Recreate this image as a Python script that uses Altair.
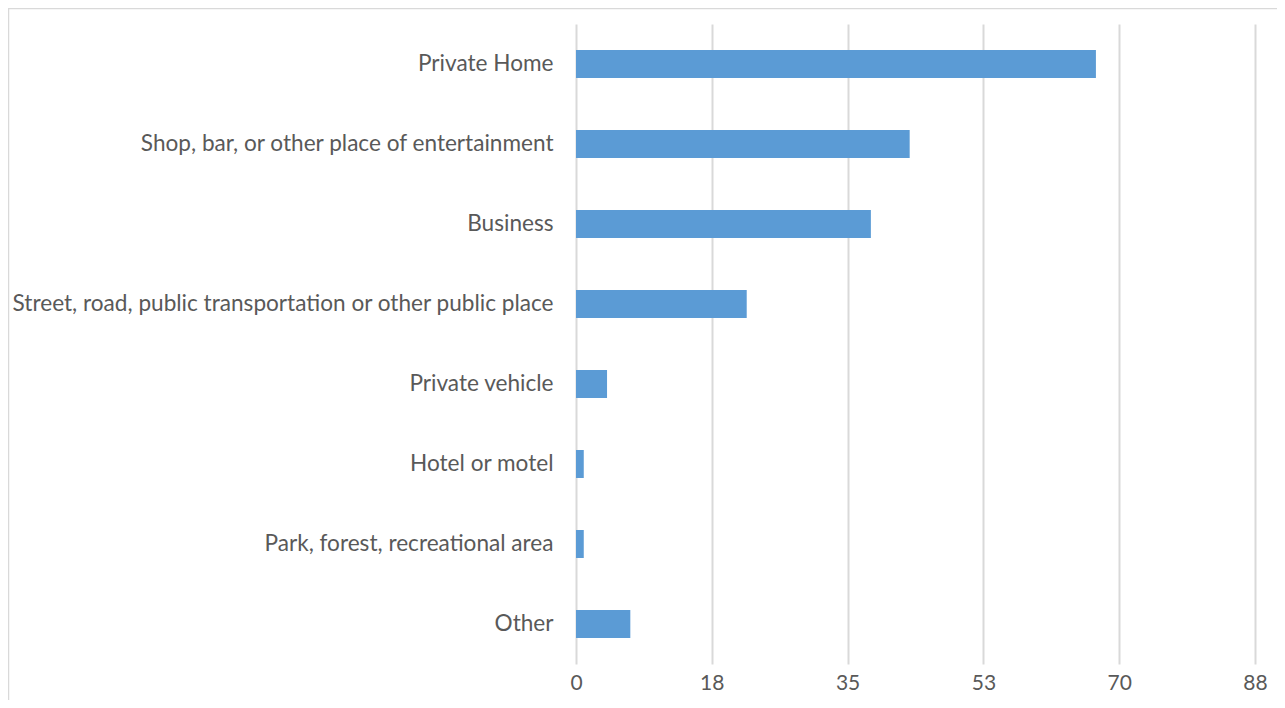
import altair as alt
import pandas as pd

categories = [
    "Private Home",
    "Shop, bar, or other place of entertainment",
    "Business",
    "Street, road, public transportation or other public place",
    "Private vehicle",
    "Hotel or motel",
    "Park, forest, recreational area",
    "Other",
]
values = [67, 43, 38, 22, 4, 1, 1, 7]
tick_values = [0, 17.5, 35, 52.5, 70, 87.5]

df = pd.DataFrame({"category": categories, "value": values})

FONT = "Lato"
TXT = "#595959"
GRID = "#D9D9D9"

bars = alt.Chart(df).mark_bar(height=28, color="#5B9BD5").encode(
    y=alt.Y(
        "category:N",
        sort=categories,
        scale=alt.Scale(paddingInner=0, paddingOuter=0),
        axis=alt.Axis(
            title=None,
            domain=False,
            ticks=False,
            grid=False,
            labelPadding=23,
            labelLimit=0,
            labelFont=FONT,
            labelFontSize=22.6,
            labelColor=TXT,
        ),
    ),
    x=alt.X(
        "value:Q",
        scale=alt.Scale(domain=[0, 87.5], nice=False, zero=True),
        axis=alt.Axis(
            title=None,
            values=tick_values,
            format=".0f",
            domain=False,
            ticks=False,
            grid=True,
            gridColor=GRID,
            gridWidth=2,
            labelPadding=8,
            labelFlush=False,
            labelFont=FONT,
            labelFontSize=21,
            labelColor=TXT,
        ),
    ),
)

border = alt.Chart(pd.DataFrame({"a": [0]})).mark_rect(
    fill=None, stroke=GRID, strokeWidth=1.5
).encode(
    x=alt.value(-567.5),
    x2=alt.value(705),
    y=alt.value(-15.5),
    y2=alt.value(720),
)

chart = alt.layer(border, bars).properties(
    width=679,
    height=640,
    autosize=alt.AutoSizeParams(type="none"),
    padding={"left": 568, "top": 16, "right": 22, "bottom": 36},
).configure_view(stroke=None)

chart.save("out.html", embed_options={"renderer": "svg", "actions": False})
